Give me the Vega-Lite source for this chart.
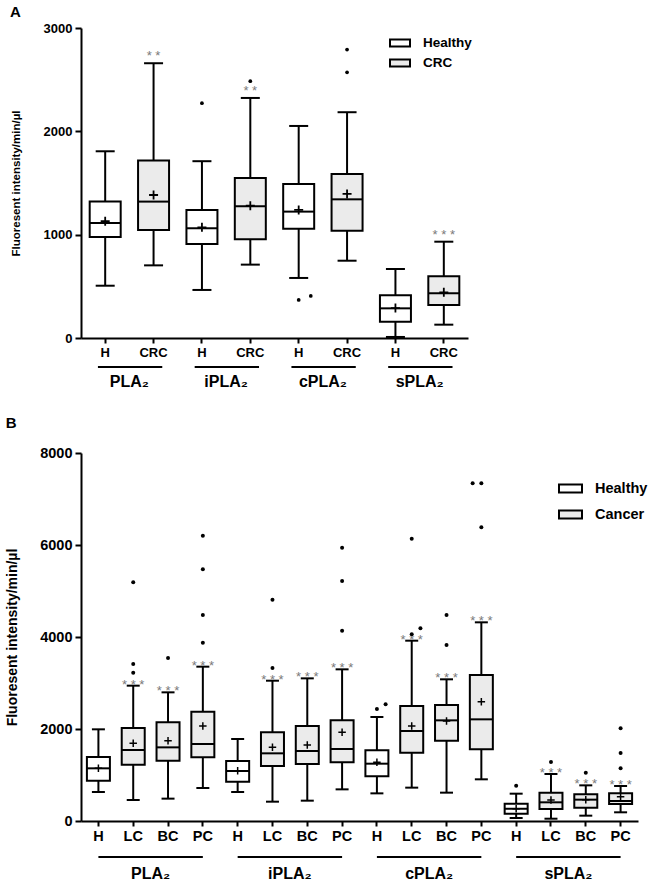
{
  "$schema": "https://vega.github.io/schema/vega-lite/v6.json",
  "background": "white",
  "padding": 5,
  "spacing": 26,
  "resolve": {"scale": {"color": "independent", "xOffset": "independent"}, "legend": {"color": "independent"}},
  "config": {
    "view": {"stroke": null},
    "font": "Liberation Sans",
    "axis": {"domainColor": "black", "domainWidth": 2, "tickColor": "black", "tickWidth": 2, "tickSize": 5, "labelColor": "black", "labelFontWeight": "bold", "labelFont": "Liberation Sans", "grid": false, "titleColor": "black", "titleFontWeight": "bold", "titleFont": "Liberation Sans"},
    "title": {"color": "black", "font": "Liberation Sans", "fontWeight": "bold"}
  },
  "datasets": {
    "boxA": [
      {"key": "PLA2|H", "type": "Healthy", "lo": 506, "q1": 978, "med": 1113, "q3": 1320, "hi": 1807, "mean": 1130, "s": ""},
      {"key": "PLA2|CRC", "type": "CRC", "lo": 703, "q1": 1045, "med": 1320, "q3": 1717, "hi": 2659, "mean": 1384, "s": "* *"},
      {"key": "iPLA2|H", "type": "Healthy", "lo": 465, "q1": 910, "med": 1062, "q3": 1239, "hi": 1711, "mean": 1071, "s": ""},
      {"key": "iPLA2|CRC", "type": "CRC", "lo": 710, "q1": 955, "med": 1275, "q3": 1549, "hi": 2323, "mean": 1281, "s": "* *"},
      {"key": "cPLA2|H", "type": "Healthy", "lo": 581, "q1": 1058, "med": 1223, "q3": 1491, "hi": 2052, "mean": 1239, "s": ""},
      {"key": "cPLA2|CRC", "type": "CRC", "lo": 748, "q1": 1039, "med": 1342, "q3": 1588, "hi": 2185, "mean": 1394, "s": ""},
      {"key": "sPLA2|H", "type": "Healthy", "lo": 10, "q1": 158, "med": 287, "q3": 413, "hi": 668, "mean": 290, "s": ""},
      {"key": "sPLA2|CRC", "type": "CRC", "lo": 129, "q1": 319, "med": 433, "q3": 597, "hi": 932, "mean": 442, "s": "* * *"}
    ],
    "outA": [
      {"key": "iPLA2|H", "k": "C", "v": 2272},
      {"key": "iPLA2|CRC", "k": "C", "v": 2485},
      {"key": "cPLA2|H", "k": "C", "v": 368},
      {"key": "cPLA2|H", "k": "R", "v": 407},
      {"key": "cPLA2|CRC", "k": "C", "v": 2791},
      {"key": "cPLA2|CRC", "k": "C", "v": 2571}
    ],
    "grpA": [
      {"g": "PLA₂", "first": "PLA2|H", "last": "PLA2|CRC", "mid": "PLA2|CRC"},
      {"g": "iPLA₂", "first": "iPLA2|H", "last": "iPLA2|CRC", "mid": "iPLA2|CRC"},
      {"g": "cPLA₂", "first": "cPLA2|H", "last": "cPLA2|CRC", "mid": "cPLA2|CRC"},
      {"g": "sPLA₂", "first": "sPLA2|H", "last": "sPLA2|CRC", "mid": "sPLA2|CRC"}
    ],
    "boxB": [
      {"key": "PLA2|H", "type": "Healthy", "lo": 630, "q1": 876, "med": 1145, "q3": 1391, "hi": 1993, "mean": 1145, "s": ""},
      {"key": "PLA2|LC", "type": "Cancer", "lo": 457, "q1": 1225, "med": 1543, "q3": 2022, "hi": 2942, "mean": 1689, "s": "* * *"},
      {"key": "PLA2|BC", "type": "Cancer", "lo": 486, "q1": 1311, "med": 1601, "q3": 2145, "hi": 2797, "mean": 1746, "s": "* * *"},
      {"key": "PLA2|PC", "type": "Cancer", "lo": 717, "q1": 1384, "med": 1674, "q3": 2377, "hi": 3355, "mean": 2065, "s": "* * *"},
      {"key": "iPLA2|H", "type": "Healthy", "lo": 630, "q1": 855, "med": 1087, "q3": 1304, "hi": 1783, "mean": 1090, "s": ""},
      {"key": "iPLA2|LC", "type": "Cancer", "lo": 420, "q1": 1196, "med": 1471, "q3": 1928, "hi": 3050, "mean": 1601, "s": "* * *"},
      {"key": "iPLA2|BC", "type": "Cancer", "lo": 442, "q1": 1239, "med": 1522, "q3": 2065, "hi": 3101, "mean": 1652, "s": "* * *"},
      {"key": "iPLA2|PC", "type": "Cancer", "lo": 688, "q1": 1275, "med": 1565, "q3": 2188, "hi": 3297, "mean": 1928, "s": "* * *"},
      {"key": "cPLA2|H", "type": "Healthy", "lo": 601, "q1": 971, "med": 1246, "q3": 1536, "hi": 2261, "mean": 1275, "s": ""},
      {"key": "cPLA2|LC", "type": "Cancer", "lo": 725, "q1": 1486, "med": 1957, "q3": 2500, "hi": 3920, "mean": 2065, "s": "* * *"},
      {"key": "cPLA2|BC", "type": "Cancer", "lo": 616, "q1": 1746, "med": 2188, "q3": 2522, "hi": 3080, "mean": 2174, "s": "* * *"},
      {"key": "cPLA2|PC", "type": "Cancer", "lo": 906, "q1": 1558, "med": 2210, "q3": 3174, "hi": 4319, "mean": 2594, "s": "* * *"},
      {"key": "sPLA2|H", "type": "Healthy", "lo": 65, "q1": 159, "med": 266, "q3": 377, "hi": 594, "mean": 268, "s": ""},
      {"key": "sPLA2|LC", "type": "Cancer", "lo": 50, "q1": 261, "med": 406, "q3": 616, "hi": 1022, "mean": 457, "s": "* * *"},
      {"key": "sPLA2|BC", "type": "Cancer", "lo": 116, "q1": 290, "med": 464, "q3": 580, "hi": 775, "mean": 464, "s": "* * *"},
      {"key": "sPLA2|PC", "type": "Cancer", "lo": 189, "q1": 370, "med": 435, "q3": 602, "hi": 761, "mean": 529, "s": "* * *"}
    ],
    "outB": [
      {"key": "PLA2|LC", "k": "C", "v": 5189},
      {"key": "PLA2|LC", "k": "C", "v": 3413},
      {"key": "PLA2|LC", "k": "C", "v": 3225},
      {"key": "PLA2|BC", "k": "C", "v": 3543},
      {"key": "PLA2|PC", "k": "C", "v": 6203},
      {"key": "PLA2|PC", "k": "C", "v": 5471},
      {"key": "PLA2|PC", "k": "C", "v": 4478},
      {"key": "PLA2|PC", "k": "C", "v": 3877},
      {"key": "iPLA2|LC", "k": "C", "v": 4812},
      {"key": "iPLA2|LC", "k": "C", "v": 3326},
      {"key": "iPLA2|PC", "k": "C", "v": 5942},
      {"key": "iPLA2|PC", "k": "C", "v": 5217},
      {"key": "iPLA2|PC", "k": "C", "v": 4137},
      {"key": "cPLA2|H", "k": "C", "v": 2435},
      {"key": "cPLA2|H", "k": "R", "v": 2536},
      {"key": "cPLA2|LC", "k": "C", "v": 6138},
      {"key": "cPLA2|LC", "k": "C", "v": 4058},
      {"key": "cPLA2|LC", "k": "R", "v": 4188},
      {"key": "cPLA2|BC", "k": "C", "v": 4478},
      {"key": "cPLA2|BC", "k": "C", "v": 3826},
      {"key": "cPLA2|PC", "k": "L", "v": 7341},
      {"key": "cPLA2|PC", "k": "C", "v": 7341},
      {"key": "cPLA2|PC", "k": "C", "v": 6384},
      {"key": "sPLA2|H", "k": "C", "v": 768},
      {"key": "sPLA2|LC", "k": "C", "v": 1283},
      {"key": "sPLA2|BC", "k": "C", "v": 1051},
      {"key": "sPLA2|PC", "k": "C", "v": 2014},
      {"key": "sPLA2|PC", "k": "C", "v": 1478},
      {"key": "sPLA2|PC", "k": "C", "v": 1145}
    ],
    "grpB": [
      {"g": "PLA₂", "first": "PLA2|H", "last": "PLA2|PC", "mid": "PLA2|BC"},
      {"g": "iPLA₂", "first": "iPLA2|H", "last": "iPLA2|PC", "mid": "iPLA2|BC"},
      {"g": "cPLA₂", "first": "cPLA2|H", "last": "cPLA2|PC", "mid": "cPLA2|BC"},
      {"g": "sPLA₂", "first": "sPLA2|H", "last": "sPLA2|PC", "mid": "sPLA2|BC"}
    ]
  },
  "vconcat": [
    {
      "width": 387,
      "height": 310,
      "title": {"text": "A", "anchor": "start", "frame": "bounds", "fontSize": 15, "offset": 2},
      "encoding": {
        "x": {"field": "key", "type": "nominal", "scale": {"type": "band", "domain": ["PLA2|H", "PLA2|CRC", "iPLA2|H", "iPLA2|CRC", "cPLA2|H", "cPLA2|CRC", "sPLA2|H", "sPLA2|CRC"], "paddingInner": 0, "paddingOuter": 0}, "axis": {"title": null, "labelExpr": "split(datum.label, '|')[1]", "labelFontSize": 13, "labelAngle": 0, "labelPadding": 3}}
      },
      "layer": [
        {
          "data": {"name": "boxA"},
          "mark": {"type": "rule", "strokeWidth": 2, "color": "black"},
          "encoding": {
            "y": {"field": "lo", "type": "quantitative", "scale": {"domain": [0, 3000], "nice": false}, "title": "Fluoresent intensity/min/µl", "axis": {"values": [0, 1000, 2000, 3000], "format": "d", "labelFontSize": 13, "titleFontSize": 11.5, "titlePadding": 22, "labelPadding": 3, "tickSize": 6}},
            "y2": {"field": "hi"}
          }
        },
        {
          "data": {"name": "boxA"},
          "mark": {"type": "tick", "color": "black", "thickness": 2, "size": 19, "opacity": 1},
          "encoding": {
            "y": {"field": "hi", "type": "quantitative", "scale": {"domain": [0, 3000], "nice": false}, "title": "Fluoresent intensity/min/µl", "axis": {"values": [0, 1000, 2000, 3000], "format": "d", "labelFontSize": 13, "titleFontSize": 11.5, "titlePadding": 22, "labelPadding": 3, "tickSize": 6}}
          }
        },
        {
          "data": {"name": "boxA"},
          "mark": {"type": "tick", "color": "black", "thickness": 2, "size": 19, "opacity": 1},
          "encoding": {
            "y": {"field": "lo", "type": "quantitative", "scale": {"domain": [0, 3000], "nice": false}, "title": "Fluoresent intensity/min/µl", "axis": {"values": [0, 1000, 2000, 3000], "format": "d", "labelFontSize": 13, "titleFontSize": 11.5, "titlePadding": 22, "labelPadding": 3, "tickSize": 6}}
          }
        },
        {
          "data": {"name": "boxA"},
          "mark": {"type": "bar", "stroke": "black", "strokeWidth": 2, "width": 31, "opacity": 1},
          "encoding": {
            "y": {"field": "q1", "type": "quantitative", "scale": {"domain": [0, 3000], "nice": false}, "title": "Fluoresent intensity/min/µl", "axis": {"values": [0, 1000, 2000, 3000], "format": "d", "labelFontSize": 13, "titleFontSize": 11.5, "titlePadding": 22, "labelPadding": 3, "tickSize": 6}},
            "y2": {"field": "q3"},
            "color": {"field": "type", "type": "nominal", "scale": {"domain": ["Healthy", "CRC"], "range": ["#ffffff", "#ebebeb"]}, "legend": {"title": null, "orient": "none", "legendX": 308, "legendY": 4, "symbolType": "M-1,-0.35H1V0.35H-1Z", "symbolSize": 400, "symbolStrokeColor": "black", "symbolStrokeWidth": 2, "symbolOpacity": 1, "labelFont": "Liberation Sans", "labelFontWeight": "bold", "labelFontSize": 13.5, "labelColor": "black", "labelOffset": 12, "rowPadding": 1}}
          }
        },
        {
          "data": {"name": "boxA"},
          "mark": {"type": "tick", "color": "black", "thickness": 2, "size": 31, "opacity": 1},
          "encoding": {
            "y": {"field": "med", "type": "quantitative", "scale": {"domain": [0, 3000], "nice": false}, "title": "Fluoresent intensity/min/µl", "axis": {"values": [0, 1000, 2000, 3000], "format": "d", "labelFontSize": 13, "titleFontSize": 11.5, "titlePadding": 22, "labelPadding": 3, "tickSize": 6}}
          }
        },
        {
          "data": {"name": "boxA"},
          "mark": {"type": "point", "shape": "M-1,-0.2H-0.2V-1H0.2V-0.2H1V0.2H0.2V1H-0.2V0.2H-1Z", "filled": true, "color": "black", "size": 81, "opacity": 1},
          "encoding": {
            "y": {"field": "mean", "type": "quantitative", "scale": {"domain": [0, 3000], "nice": false}, "title": "Fluoresent intensity/min/µl", "axis": {"values": [0, 1000, 2000, 3000], "format": "d", "labelFontSize": 13, "titleFontSize": 11.5, "titlePadding": 22, "labelPadding": 3, "tickSize": 6}}
          }
        },
        {
          "data": {"name": "boxA"},
          "mark": {"type": "text", "color": "#7a7a7a", "fontSize": 13, "baseline": "alphabetic", "dy": -3},
          "encoding": {
            "y": {"field": "hi", "type": "quantitative", "scale": {"domain": [0, 3000], "nice": false}, "title": "Fluoresent intensity/min/µl", "axis": {"values": [0, 1000, 2000, 3000], "format": "d", "labelFontSize": 13, "titleFontSize": 11.5, "titlePadding": 22, "labelPadding": 3, "tickSize": 6}},
            "text": {"field": "s"}
          }
        },
        {
          "data": {"name": "outA"},
          "mark": {"type": "point", "shape": "circle", "filled": true, "color": "black", "size": 14, "opacity": 1},
          "encoding": {
            "xOffset": {"field": "k", "type": "nominal", "scale": {"domain": ["L", "C", "R"], "paddingInner": 0, "paddingOuter": 2.5}},
            "y": {"field": "v", "type": "quantitative", "scale": {"domain": [0, 3000], "nice": false}, "title": "Fluoresent intensity/min/µl", "axis": {"values": [0, 1000, 2000, 3000], "format": "d", "labelFontSize": 13, "titleFontSize": 11.5, "titlePadding": 22, "labelPadding": 3, "tickSize": 6}}
          }
        },
        {
          "data": {"name": "grpA"},
          "mark": {"type": "rule", "strokeWidth": 2, "color": "black"},
          "encoding": {
            "x": {"field": "first", "type": "nominal", "bandPosition": 0.35, "scale": {"type": "band", "domain": ["PLA2|H", "PLA2|CRC", "iPLA2|H", "iPLA2|CRC", "cPLA2|H", "cPLA2|CRC", "sPLA2|H", "sPLA2|CRC"], "paddingInner": 0, "paddingOuter": 0}, "axis": {"title": null, "labelExpr": "split(datum.label, '|')[1]", "labelFontSize": 13, "labelAngle": 0, "labelPadding": 3}},
            "x2": {"field": "last", "bandPosition": 0.68},
            "y": {"value": 339}
          }
        },
        {
          "data": {"name": "grpA"},
          "mark": {"type": "text", "fontSize": 16, "fontWeight": "bold", "color": "black", "baseline": "middle", "align": "center"},
          "encoding": {
            "x": {"field": "mid", "type": "nominal", "bandPosition": 0, "scale": {"type": "band", "domain": ["PLA2|H", "PLA2|CRC", "iPLA2|H", "iPLA2|CRC", "cPLA2|H", "cPLA2|CRC", "sPLA2|H", "sPLA2|CRC"], "paddingInner": 0, "paddingOuter": 0}, "axis": {"title": null, "labelExpr": "split(datum.label, '|')[1]", "labelFontSize": 13, "labelAngle": 0, "labelPadding": 3}},
            "y": {"value": 354},
            "text": {"field": "g"}
          }
        }
      ]
    },
    {
      "width": 557,
      "height": 368,
      "title": {"text": "B", "anchor": "start", "frame": "bounds", "fontSize": 15, "offset": 14},
      "encoding": {
        "x": {"field": "key", "type": "nominal", "scale": {"type": "band", "domain": ["PLA2|H", "PLA2|LC", "PLA2|BC", "PLA2|PC", "iPLA2|H", "iPLA2|LC", "iPLA2|BC", "iPLA2|PC", "cPLA2|H", "cPLA2|LC", "cPLA2|BC", "cPLA2|PC", "sPLA2|H", "sPLA2|LC", "sPLA2|BC", "sPLA2|PC"], "paddingInner": 0, "paddingOuter": 0}, "axis": {"title": null, "labelExpr": "split(datum.label, '|')[1]", "labelFontSize": 14.5, "labelAngle": 0, "labelPadding": 3}}
      },
      "layer": [
        {
          "data": {"name": "boxB"},
          "mark": {"type": "rule", "strokeWidth": 2, "color": "black"},
          "encoding": {
            "y": {"field": "lo", "type": "quantitative", "scale": {"domain": [0, 8000], "nice": false}, "title": "Fluoresent intensity/min/µl", "axis": {"values": [0, 2000, 4000, 6000, 8000], "format": "d", "labelFontSize": 14.5, "titleFontSize": 14, "titlePadding": 20, "labelPadding": 3, "tickSize": 6}},
            "y2": {"field": "hi"}
          }
        },
        {
          "data": {"name": "boxB"},
          "mark": {"type": "tick", "color": "black", "thickness": 2, "size": 13, "opacity": 1},
          "encoding": {
            "y": {"field": "hi", "type": "quantitative", "scale": {"domain": [0, 8000], "nice": false}, "title": "Fluoresent intensity/min/µl", "axis": {"values": [0, 2000, 4000, 6000, 8000], "format": "d", "labelFontSize": 14.5, "titleFontSize": 14, "titlePadding": 20, "labelPadding": 3, "tickSize": 6}}
          }
        },
        {
          "data": {"name": "boxB"},
          "mark": {"type": "tick", "color": "black", "thickness": 2, "size": 13, "opacity": 1},
          "encoding": {
            "y": {"field": "lo", "type": "quantitative", "scale": {"domain": [0, 8000], "nice": false}, "title": "Fluoresent intensity/min/µl", "axis": {"values": [0, 2000, 4000, 6000, 8000], "format": "d", "labelFontSize": 14.5, "titleFontSize": 14, "titlePadding": 20, "labelPadding": 3, "tickSize": 6}}
          }
        },
        {
          "data": {"name": "boxB"},
          "mark": {"type": "bar", "stroke": "black", "strokeWidth": 2, "width": 23, "opacity": 1},
          "encoding": {
            "y": {"field": "q1", "type": "quantitative", "scale": {"domain": [0, 8000], "nice": false}, "title": "Fluoresent intensity/min/µl", "axis": {"values": [0, 2000, 4000, 6000, 8000], "format": "d", "labelFontSize": 14.5, "titleFontSize": 14, "titlePadding": 20, "labelPadding": 3, "tickSize": 6}},
            "y2": {"field": "q3"},
            "color": {"field": "type", "type": "nominal", "scale": {"domain": ["Healthy", "Cancer"], "range": ["#ffffff", "#ebebeb"]}, "legend": {"title": null, "orient": "none", "legendX": 477, "legendY": 23, "symbolType": "M-1,-0.35H1V0.35H-1Z", "symbolSize": 529, "symbolStrokeColor": "black", "symbolStrokeWidth": 2, "symbolOpacity": 1, "labelFont": "Liberation Sans", "labelFontWeight": "bold", "labelFontSize": 14.5, "labelColor": "black", "labelOffset": 12, "rowPadding": 5}}
          }
        },
        {
          "data": {"name": "boxB"},
          "mark": {"type": "tick", "color": "black", "thickness": 2, "size": 23, "opacity": 1},
          "encoding": {
            "y": {"field": "med", "type": "quantitative", "scale": {"domain": [0, 8000], "nice": false}, "title": "Fluoresent intensity/min/µl", "axis": {"values": [0, 2000, 4000, 6000, 8000], "format": "d", "labelFontSize": 14.5, "titleFontSize": 14, "titlePadding": 20, "labelPadding": 3, "tickSize": 6}}
          }
        },
        {
          "data": {"name": "boxB"},
          "mark": {"type": "point", "shape": "M-1,-0.2H-0.2V-1H0.2V-0.2H1V0.2H0.2V1H-0.2V0.2H-1Z", "filled": true, "color": "black", "size": 56, "opacity": 1},
          "encoding": {
            "y": {"field": "mean", "type": "quantitative", "scale": {"domain": [0, 8000], "nice": false}, "title": "Fluoresent intensity/min/µl", "axis": {"values": [0, 2000, 4000, 6000, 8000], "format": "d", "labelFontSize": 14.5, "titleFontSize": 14, "titlePadding": 20, "labelPadding": 3, "tickSize": 6}}
          }
        },
        {
          "data": {"name": "boxB"},
          "mark": {"type": "text", "color": "#7a7a7a", "fontSize": 13, "baseline": "alphabetic", "dy": 3},
          "encoding": {
            "y": {"field": "hi", "type": "quantitative", "scale": {"domain": [0, 8000], "nice": false}, "title": "Fluoresent intensity/min/µl", "axis": {"values": [0, 2000, 4000, 6000, 8000], "format": "d", "labelFontSize": 14.5, "titleFontSize": 14, "titlePadding": 20, "labelPadding": 3, "tickSize": 6}},
            "text": {"field": "s"}
          }
        },
        {
          "data": {"name": "outB"},
          "mark": {"type": "point", "shape": "circle", "filled": true, "color": "black", "size": 16, "opacity": 1},
          "encoding": {
            "xOffset": {"field": "k", "type": "nominal", "scale": {"domain": ["L", "C", "R"], "paddingInner": 0, "paddingOuter": 1.14}},
            "y": {"field": "v", "type": "quantitative", "scale": {"domain": [0, 8000], "nice": false}, "title": "Fluoresent intensity/min/µl", "axis": {"values": [0, 2000, 4000, 6000, 8000], "format": "d", "labelFontSize": 14.5, "titleFontSize": 14, "titlePadding": 20, "labelPadding": 3, "tickSize": 6}}
          }
        },
        {
          "data": {"name": "grpB"},
          "mark": {"type": "rule", "strokeWidth": 2, "color": "black"},
          "encoding": {
            "x": {"field": "first", "type": "nominal", "bandPosition": 0.5, "scale": {"type": "band", "domain": ["PLA2|H", "PLA2|LC", "PLA2|BC", "PLA2|PC", "iPLA2|H", "iPLA2|LC", "iPLA2|BC", "iPLA2|PC", "cPLA2|H", "cPLA2|LC", "cPLA2|BC", "cPLA2|PC", "sPLA2|H", "sPLA2|LC", "sPLA2|BC", "sPLA2|PC"], "paddingInner": 0, "paddingOuter": 0}, "axis": {"title": null, "labelExpr": "split(datum.label, '|')[1]", "labelFontSize": 14.5, "labelAngle": 0, "labelPadding": 3}},
            "x2": {"field": "last", "bandPosition": 0.5},
            "y": {"value": 404}
          }
        },
        {
          "data": {"name": "grpB"},
          "mark": {"type": "text", "fontSize": 16, "fontWeight": "bold", "color": "black", "baseline": "middle", "align": "center"},
          "encoding": {
            "x": {"field": "mid", "type": "nominal", "bandPosition": 0, "scale": {"type": "band", "domain": ["PLA2|H", "PLA2|LC", "PLA2|BC", "PLA2|PC", "iPLA2|H", "iPLA2|LC", "iPLA2|BC", "iPLA2|PC", "cPLA2|H", "cPLA2|LC", "cPLA2|BC", "cPLA2|PC", "sPLA2|H", "sPLA2|LC", "sPLA2|BC", "sPLA2|PC"], "paddingInner": 0, "paddingOuter": 0}, "axis": {"title": null, "labelExpr": "split(datum.label, '|')[1]", "labelFontSize": 14.5, "labelAngle": 0, "labelPadding": 3}},
            "y": {"value": 421},
            "text": {"field": "g"}
          }
        }
      ]
    }
  ]
}
